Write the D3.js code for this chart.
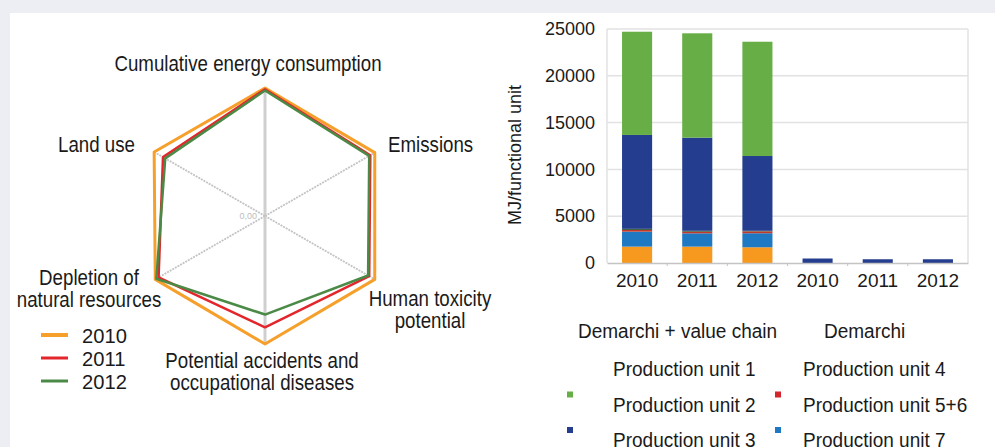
<!DOCTYPE html>
<html>
  <head>
    <meta http-equiv="Content-Type" content="text/html;charset=utf-8"/>
    <script type="text/javascript" src="https://cdn.jsdelivr.net/npm/d3@7"></script>
    <style type="text/css">
      body { margin: 0; background: #edeef4; }
      text {
        font-family: "Liberation Sans", Arial, Helvetica, sans-serif;
        fill: #1a1a1a;
      }
    </style>
  </head>
  <body>
    <svg id="con" width="995" height="447"></svg>
    <script type="text/javascript">

    // radar data
    var axes = ["Cumulative energy consumption", "Emissions", "Human toxicity potential",
                "Potential accidents and occupational diseases", "Depletion of natural resources", "Land use"];
    var years = ["2010", "2011", "2012"];
    var year_colors = ["#f6a02b", "#e2262c", "#4b8a46"];
    var v2010 = [1.00, 0.99, 0.99, 1.00, 0.99, 1.00];
    var v2011 = [0.99, 0.95, 0.94, 0.87, 0.96, 0.92];
    var v2012 = [0.98, 0.94, 0.93, 0.77, 0.98, 0.90];

    // bar data
    var bar_labels = ["2010", "2011", "2012", "2010", "2011", "2012"];
    var units = ["Production unit 1", "Production unit 7", "Production unit 5+6",
                 "Production unit 4", "Production unit 3", "Production unit 2"];
    var unit_colors = ["#f7991f", "#1e78c2", "#c23a2c", "#3b5e3c", "#253d8e", "#68ae46"];
    var unit1 = [1750, 1750, 1680, 0, 0, 0];
    var unit7 = [1600, 1420, 1500, 0, 0, 0];
    var unit56 = [180, 170, 200, 0, 0, 0];
    var unit4 = [120, 100, 60, 0, 0, 0];
    var unit3 = [10030, 9950, 7990, 480, 400, 400];
    var unit2 = [11030, 11150, 12210, 0, 0, 0];
    var y_ticks = [0, 5000, 10000, 15000, 20000, 25000];

    // legend of the bar chart: [label, column, row, marker colour]
    var bar_legend = [
      ["Production unit 1", 0, 0, null],
      ["Production unit 2", 0, 1, "#68ae46"],
      ["Production unit 3", 0, 2, "#253d8e"],
      ["Production unit 4", 1, 0, null],
      ["Production unit 5+6", 1, 1, "#d4262c"],
      ["Production unit 7", 1, 2, "#1e78c2"]
    ];

    var svg = d3.select("#con");

    svg.append("rect").attr("x", 10).attr("y", 13).attr("width", 985).attr("height", 434)
        .attr("fill", "#ffffff");

    function condense(sel, k) {
      sel.each(function() {
        var len = this.getComputedTextLength();
        d3.select(this).attr("textLength", len * k).attr("lengthAdjust", "spacingAndGlyphs");
      });
    }

    // ---------------- radar ----------------
    var cx = 265, cy = 216;
    var r = d3.scaleLinear().domain([0, 1]).range([0, 128]);
    var ang = function(i) { return i * 2 * Math.PI / axes.length; };
    var radar = svg.append("g").attr("transform", "translate(" + cx + "," + cy + ")");

    radar.selectAll(".spoke").data(axes).enter().append("line")
        .attr("class", "spoke")
        .attr("x1", 0).attr("y1", 0)
        .attr("x2", function(d, i) { return r(1.0) * Math.sin(ang(i)); })
        .attr("y2", function(d, i) { return -r(1.0) * Math.cos(ang(i)); })
        .attr("stroke", function(d, i) { return i % 3 == 0 ? "#cfcfcf" : "#c4c4c4"; })
        .attr("stroke-width", function(d, i) { return i % 3 == 0 ? 3 : 2; })
        .attr("stroke-dasharray", function(d, i) { return i % 3 == 0 ? null : "2,1"; });

    radar.append("text").attr("x", -8).attr("y", 3).attr("text-anchor", "end")
        .style("font-size", "9px").style("fill", "#bdbdbd").text("0,00");

    var line = d3.lineRadial()
        .angle(function(d, i) { return ang(i); })
        .radius(function(d) { return r(d); })
        .curve(d3.curveLinearClosed);

    radar.selectAll(".series").data([v2010, v2011, v2012]).enter().append("path")
        .attr("class", "series")
        .attr("d", line)
        .attr("fill", "none")
        .attr("stroke", function(d, i) { return year_colors[i]; })
        .attr("stroke-width", function(d, i) { return i == 0 ? 3 : 2.5; })
        .attr("stroke-linejoin", "round");

    var radar_labels = [
      {lines: ["Cumulative energy consumption"], x: 248, y: 71, anchor: "middle"},
      {lines: ["Emissions"], x: 388, y: 152, anchor: "start"},
      {lines: ["Human toxicity", "potential"], x: 430, y: 306, anchor: "middle"},
      {lines: ["Potential accidents and", "occupational diseases"], x: 262, y: 368, anchor: "middle"},
      {lines: ["Depletion of", "natural resources"], x: 89, y: 285, anchor: "middle"},
      {lines: ["Land use"], x: 135, y: 152, anchor: "end"}
    ];
    var lab = svg.selectAll(".rlabel").data(radar_labels).enter().append("text")
        .attr("class", "rlabel")
        .attr("text-anchor", function(d) { return d.anchor; })
        .style("font-size", "22px");
    lab.selectAll("tspan").data(function(d) { return d.lines.map(function(t, j) { return {t: t, x: d.x, y: d.y + j * 22}; }); })
        .enter().append("tspan")
        .attr("x", function(d) { return d.x; })
        .attr("y", function(d) { return d.y; })
        .text(function(d) { return d.t; });
    condense(lab.selectAll("tspan"), 0.85);

    var rleg = svg.selectAll(".rleg").data(years).enter().append("g")
        .attr("class", "rleg")
        .attr("transform", function(d, i) { return "translate(41," + (335 + i * 23) + ")"; });
    rleg.append("line").attr("x1", 0).attr("x2", 27).attr("y1", 0).attr("y2", 0)
        .attr("stroke", function(d, i) { return year_colors[i]; })
        .attr("stroke-width", function(d, i) { return i == 0 ? 4 : 3; });
    var rlegt = rleg.append("text").attr("x", 41).attr("y", 8)
        .style("font-size", "21px").text(function(d) { return d; });
    condense(rlegt, 0.96);

    // ---------------- stacked bars ----------------
    var x = d3.scaleBand().domain(d3.range(bar_labels.length)).range([607, 968])
        .paddingInner(0.5).paddingOuter(0.25);
    var y = d3.scaleLinear().domain([0, 25000]).range([263, 29]);

    var table = bar_labels.map(function(l, i) {
      return {i: i, u1: unit1[i], u7: unit7[i], u56: unit56[i], u4: unit4[i], u3: unit3[i], u2: unit2[i]};
    });
    var keys = ["u1", "u7", "u56", "u4", "u3", "u2"];
    var stack = d3.stack().keys(keys)(table);

    svg.selectAll(".grid").data(y_ticks.slice(1)).enter().append("line")
        .attr("class", "grid")
        .attr("x1", 607).attr("x2", 968)
        .attr("y1", function(d) { return y(d); }).attr("y2", function(d) { return y(d); })
        .attr("stroke", "#e2e2e2").attr("stroke-width", 1.5);
    svg.append("line").attr("x1", 607).attr("x2", 607).attr("y1", y(25000)).attr("y2", y(0))
        .attr("stroke", "#e2e2e2").attr("stroke-width", 1.5);
    svg.append("line").attr("x1", 968).attr("x2", 968).attr("y1", y(25000)).attr("y2", y(0))
        .attr("stroke", "#e2e2e2").attr("stroke-width", 1.5);

    svg.append("g").selectAll("g").data(stack).enter().append("g")
        .attr("fill", function(d, i) { return unit_colors[i]; })
      .selectAll("rect").data(function(d) { return d; }).enter().append("rect")
        .attr("x", function(d) { return x(d.data.i); })
        .attr("width", x.bandwidth())
        .attr("y", function(d) { return y(d[1]); })
        .attr("height", function(d) { return y(d[0]) - y(d[1]); });

    var xAxis = svg.append("g").attr("transform", "translate(0,263)")
        .call(d3.axisBottom(x).tickSize(0).tickPadding(11).tickFormat(function(i) { return bar_labels[i]; }));
    xAxis.select(".domain").attr("stroke", "#c4c4c4").attr("stroke-width", 1.5);
    xAxis.selectAll("text").style("font-size", "19px").attr("fill", "#1a1a1a")
        .style("font-family", "'Liberation Sans', Arial, sans-serif");
    xAxis.selectAll(".sep").data(d3.range(1, bar_labels.length)).enter().append("line")
        .attr("class", "sep")
        .attr("x1", function(i) { return x(i) - x.step() * x.paddingInner() / 2; })
        .attr("x2", function(i) { return x(i) - x.step() * x.paddingInner() / 2; })
        .attr("y1", 0).attr("y2", 3).attr("stroke", "#c4c4c4");

    var yAxis = svg.append("g").attr("transform", "translate(600,0)")
        .call(d3.axisLeft(y).tickValues(y_ticks).tickSize(0).tickPadding(5).tickFormat(d3.format("d")));
    yAxis.select(".domain").remove();
    yAxis.selectAll("text").style("font-size", "18px").attr("fill", "#1a1a1a")
        .style("font-family", "'Liberation Sans', Arial, sans-serif");

    svg.append("text").attr("transform", "translate(521,155) rotate(-90)")
        .attr("text-anchor", "middle").style("font-size", "18px").text("MJ/functional unit");

    // legend
    var heads = svg.selectAll(".head").data(["Demarchi + value chain", "Demarchi"]).enter().append("text")
        .attr("class", "head")
        .attr("x", function(d, i) { return i == 0 ? 578 : 824; }).attr("y", 338)
        .style("font-size", "20px").text(function(d) { return d; });
    condense(heads, 0.95);

    var items = svg.selectAll(".bleg").data(bar_legend).enter().append("g")
        .attr("class", "bleg")
        .attr("transform", function(d) { return "translate(" + (d[1] == 0 ? 613 : 803) + "," + (376 + d[2] * 35.5) + ")"; });
    var itext = items.append("text").attr("x", 0).attr("y", 0)
        .style("font-size", "20px").text(function(d) { return d[0]; });
    condense(itext, 0.95);
    items.filter(function(d) { return d[3]; }).append("rect")
        .attr("x", function(d) { return d[1] == 0 ? -46 : -28; })
        .attr("y", -20).attr("width", 6).attr("height", 6)
        .attr("fill", function(d) { return d[3]; });

    </script>
  </body>
</html>
